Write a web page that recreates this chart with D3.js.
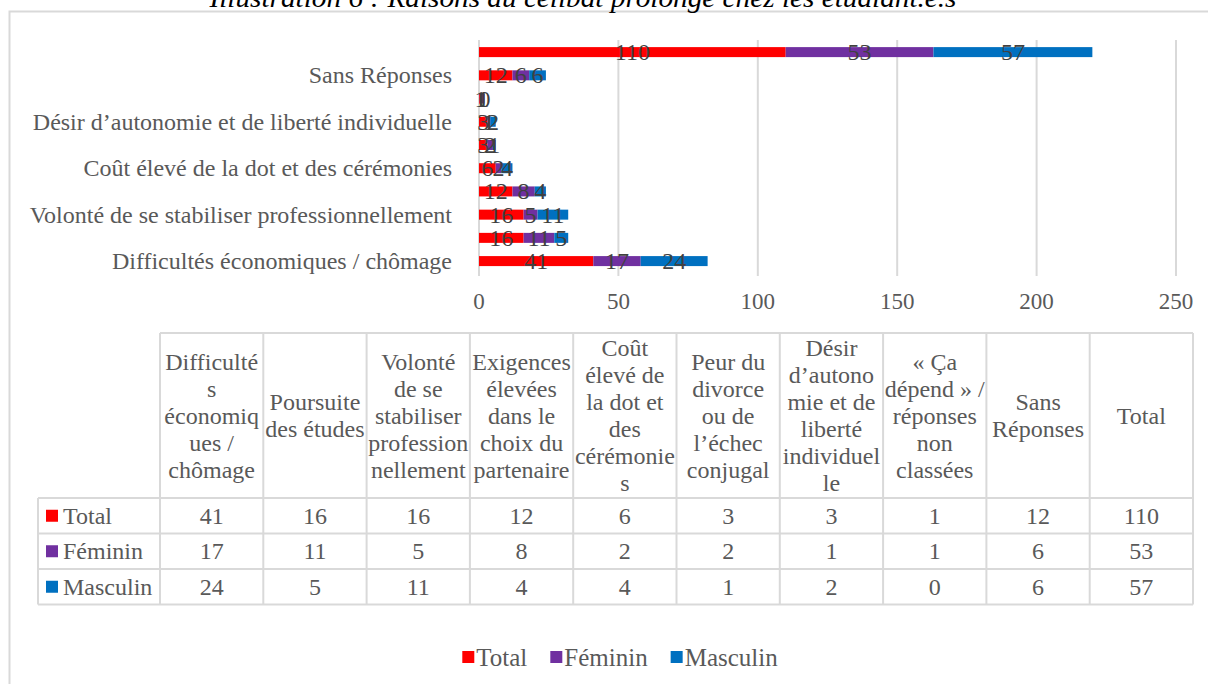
<!DOCTYPE html>
<html>
<head>
<meta charset="utf-8">
<script src="https://cdn.jsdelivr.net/npm/d3@7"></script>
<style>
  body { margin: 0; background: #fff; }
  svg { display: block; font-family: "Liberation Serif", "Times New Roman", serif; }
</style>
</head>
<body>
<svg id="chart" width="1208" height="684"></svg>
<script>
const categories = [
  "Difficultés économiques / chômage",
  "Poursuite des études",
  "Volonté de se stabiliser professionnellement",
  "Exigences élevées dans le choix du partenaire",
  "Coût élevé de la dot et des cérémonies",
  "Peur du divorce ou de l’échec conjugal",
  "Désir d’autonomie et de liberté individuelle",
  "« Ça dépend » / réponses non classées",
  "Sans Réponses",
  "Total"
];
// header text of the data table, wrapped as in the picture
const headerLines = [
  ["Difficulté", "s", "économiq", "ues /", "chômage"],
  ["Poursuite", "des études"],
  ["Volonté", "de se", "stabiliser", "profession", "nellement"],
  ["Exigences", "élevées", "dans le", "choix du", "partenaire"],
  ["Coût", "élevé de", "la dot et", "des", "cérémonie", "s"],
  ["Peur du", "divorce", "ou de", "l’échec", "conjugal"],
  ["Désir", "d’autono", "mie et de", "liberté", "individuel", "le"],
  ["« Ça", "dépend » /", "réponses", "non", "classées"],
  ["Sans", "Réponses"],
  ["Total"]
];
const seriesNames = ["Total", "Féminin", "Masculin"];
const total = [41, 16, 16, 12, 6, 3, 3, 1, 12, 110];
const feminin = [17, 11, 5, 8, 2, 2, 1, 1, 6, 53];
const masculin = [24, 5, 11, 4, 4, 1, 2, 0, 6, 57];
const xTicks = [0, 50, 100, 150, 200, 250];
const colors = ["#FF0000", "#7030A0", "#0070C0"];

const svg = d3.select("#chart");
const grid = "#d9d9d9";
const fs = 24;

// frame + clipped title
svg.append("rect")
  .attr("x", 9.5).attr("y", 11.5).attr("width", 1240).attr("height", 720)
  .attr("fill", "none").attr("stroke", grid).attr("stroke-width", 2);
svg.append("text")
  .attr("x", 583).attr("y", 7).attr("text-anchor", "middle")
  .attr("font-style", "italic").attr("font-size", 28).attr("fill", "#000")
  .attr("textLength", 747).attr("lengthAdjust", "spacingAndGlyphs")
  .text("Illustration 6 : Raisons du célibat prolongé chez les étudiant.e.s");

const rows = categories.map((c, i) => ({cat: c, v: [total[i], feminin[i], masculin[i]]}));
const stack = d3.stack().keys([0, 1, 2]).value((d, k) => d.v[k])(rows);

const x = d3.scaleLinear().domain([0, 250]).range([479, 1176]);
const y = d3.scaleBand().domain(categories.slice().reverse()).range([40.5, 272.7]);
const barH = 10;

// gridlines
svg.append("g").selectAll("line").data(xTicks).join("line")
  .attr("x1", d => x(d)).attr("x2", d => x(d))
  .attr("y1", 40).attr("y2", 276)
  .attr("stroke", grid).attr("stroke-width", 2);

// bars
const layers = svg.append("g").selectAll("g").data(stack).join("g")
  .attr("fill", (d, i) => colors[i]);
layers.selectAll("rect").data(d => d).join("rect")
  .attr("x", d => x(d[0]))
  .attr("y", d => y(d.data.cat) + y.bandwidth() / 2 - barH / 2)
  .attr("width", d => x(d[1]) - x(d[0]))
  .attr("height", barH);

// data labels
svg.append("g").selectAll("g").data(stack).join("g")
  .selectAll("text").data(d => d).join("text")
  .attr("x", d => x((d[0] + d[1]) / 2))
  .attr("y", d => y(d.data.cat) + y.bandwidth() / 2)
  .attr("text-anchor", "middle").attr("dominant-baseline", "central")
  .attr("font-size", 24).attr("fill", "#404040")
  .text(d => d[1] - d[0]);

// y labels: Excel only shows every second one
svg.append("g").selectAll("text")
  .data(categories.filter((c, i) => i % 2 === 0)).join("text")
  .attr("x", 452).attr("y", d => y(d) + y.bandwidth() / 2)
  .attr("text-anchor", "end").attr("dominant-baseline", "central")
  .attr("font-size", fs).attr("fill", "#595959")
  .text(d => d);

// x ticks
svg.append("g").selectAll("text").data(xTicks).join("text")
  .attr("x", d => x(d)).attr("y", 301)
  .attr("text-anchor", "middle").attr("dominant-baseline", "central")
  .attr("font-size", 23).attr("fill", "#595959")
  .text(d => d);

// data table
const colX = d3.scaleBand().domain(d3.range(categories.length)).range([160, 1193]);
const headTop = 333, headBot = 498, rowH = 35.5, labelLeft = 38;
const tbl = svg.append("g");
const line = (x1, y1, x2, y2) => tbl.append("line")
  .attr("x1", x1).attr("y1", y1).attr("x2", x2).attr("y2", y2)
  .attr("stroke", grid).attr("stroke-width", 2);

line(160, headTop, 1193, headTop);
for (let r = 0; r <= 3; r++) line(labelLeft, headBot + r * rowH, 1193, headBot + r * rowH);
line(labelLeft, headBot, labelLeft, headBot + 3 * rowH);
for (let c = 0; c <= categories.length; c++) {
  const cx = 160 + c * colX.step();
  line(cx, headTop, cx, headBot + 3 * rowH);
}

const lh = 27;
headerLines.forEach((lines, c) => {
  const cx = colX(c) + colX.bandwidth() / 2;
  const y0 = (headTop + headBot) / 2 - (lines.length - 1) * lh / 2;
  lines.forEach((t, k) => {
    tbl.append("text")
      .attr("x", cx).attr("y", y0 + k * lh)
      .attr("text-anchor", "middle").attr("dominant-baseline", "central")
      .attr("font-size", fs).attr("fill", "#595959").text(t);
  });
});

const series = [total, feminin, masculin];
series.forEach((vals, r) => {
  const cy = headBot + r * rowH + rowH / 2;
  tbl.append("rect").attr("x", 46).attr("y", cy - 6).attr("width", 12).attr("height", 12)
    .attr("fill", colors[r]);
  tbl.append("text").attr("x", 63).attr("y", cy)
    .attr("dominant-baseline", "central").attr("font-size", fs).attr("fill", "#595959")
    .text(seriesNames[r]);
  vals.forEach((v, c) => {
    tbl.append("text")
      .attr("x", colX(c) + colX.bandwidth() / 2).attr("y", cy)
      .attr("text-anchor", "middle").attr("dominant-baseline", "central")
      .attr("font-size", fs).attr("fill", "#595959").text(v);
  });
});

// bottom legend, centred on 620
const leg = svg.append("g");
let lx = 0;
seriesNames.forEach((n, i) => {
  const g = leg.append("g").attr("transform", `translate(${lx},0)`);
  g.append("rect").attr("x", 0).attr("y", -6).attr("width", 12).attr("height", 12).attr("fill", colors[i]);
  const t = g.append("text").attr("x", 14).attr("y", 0)
    .attr("dominant-baseline", "central").attr("font-size", 25).attr("fill", "#595959").text(n);
  lx += 14 + t.node().getComputedTextLength() + 23;
});
lx -= 23;
leg.attr("transform", `translate(${620 - lx / 2},657)`);
</script>
</body>
</html>
